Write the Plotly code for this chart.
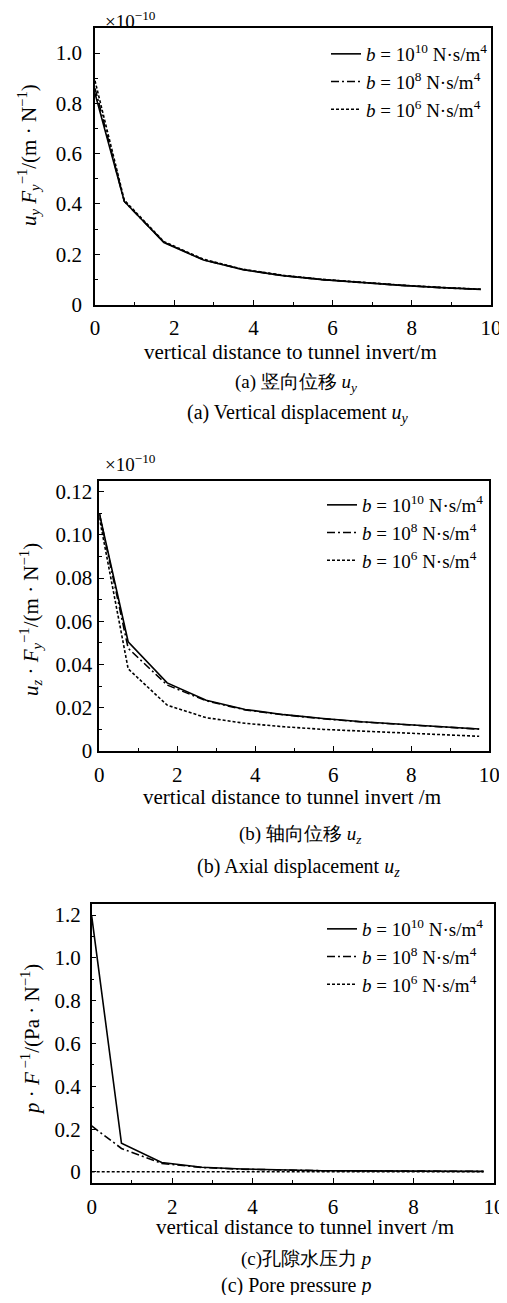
import plotly.graph_objects as go

W, H = 507, 1303
OFF = 8  # page body margin of the html page
FW, FH = W - OFF, H - 2 * OFF

# distance to tunnel invert (m)
dist = [0, 0.74, 1.74, 2.74, 3.74, 4.74, 5.74, 6.74, 7.74, 8.74, 9.74]

# (a) vertical displacement, x1e-10
uy_b10 = [0.84, 0.41, 0.246, 0.177, 0.138, 0.115, 0.099, 0.086, 0.076, 0.067, 0.060]
uy_b8 = [0.86, 0.41, 0.248, 0.178, 0.139, 0.115, 0.099, 0.086, 0.076, 0.067, 0.060]
uy_b6 = [0.89, 0.415, 0.25, 0.180, 0.140, 0.116, 0.100, 0.087, 0.077, 0.068, 0.061]

# (b) axial displacement, x1e-10
uz_b10 = [0.110, 0.0505, 0.0315, 0.0235, 0.0192, 0.0168, 0.0150, 0.0135, 0.0124, 0.0113, 0.0102]
uz_b8 = [0.110, 0.0475, 0.0305, 0.0232, 0.0190, 0.0167, 0.0149, 0.0134, 0.0123, 0.0112, 0.0101]
uz_b6 = [0.108, 0.0380, 0.0212, 0.0154, 0.0128, 0.0112, 0.0100, 0.0092, 0.0085, 0.0077, 0.0068]

# (c) pore pressure
p_b10 = [1.195, 0.134, 0.044, 0.022, 0.014, 0.009, 0.006, 0.005, 0.004, 0.003, 0.003]
p_b8 = [0.215, 0.110, 0.040, 0.021, 0.013, 0.009, 0.006, 0.005, 0.004, 0.003, 0.003]
p_b6 = [0.001, 0.001, 0.001, 0.001, 0.001, 0.001, 0.001, 0.001, 0.001, 0.001, 0.001]

labels = [
    '<i>b</i> = 10<sup>10</sup> N·s/m<sup>4</sup>',
    '<i>b</i> = 10<sup>8</sup> N·s/m<sup>4</sup>',
    '<i>b</i> = 10<sup>6</sup> N·s/m<sup>4</sup>',
]
dashes = ['solid', '8px,3px,2px,3px', '3px,2px']

FONT = 'Liberation Serif'


def px(x):
    return (x - OFF) / FW


def py(y):
    return 1 - (y - OFF) / FH


# panel frames in page pixels: left, right, top, bottom
frames = [
    (95, 491, 28, 304.5),
    (99.3, 489.3, 480.7, 751),
    (91.7, 494, 904.3, 1182.7),
]
legend_pos = [(493, 82), (489, 533), (489, 957)]
yranges = [[0, 1.1], [0, 0.125], [-0.05, 1.25]]
ytickvals = [
    [0, 0.2, 0.4, 0.6, 0.8, 1.0],
    [0, 0.02, 0.04, 0.06, 0.08, 0.10, 0.12],
    [0, 0.2, 0.4, 0.6, 0.8, 1.0, 1.2],
]
yticktext = [
    ['0', '0.2', '0.4', '0.6', '0.8', '1.0'],
    ['0', '0.02', '0.04', '0.06', '0.08', '0.10', '0.12'],
    ['0', '0.2', '0.4', '0.6', '0.8', '1.0', '1.2'],
]
ystandoff = [7, 1, 5]
series = [
    [uy_b10, uy_b8, uy_b6],
    [uz_b10, uz_b8, uz_b6],
    [p_b10, p_b8, p_b6],
]

fig = go.Figure()

for k, (vals, frame) in enumerate(zip(series, frames)):
    sfx = '' if k == 0 else str(k + 1)
    leg = 'legend' + sfx
    for j, v in enumerate(vals):
        fig.add_trace(go.Scatter(
            x=dist, y=v, mode='lines', name=labels[j],
            line=dict(color='black', width=1.6, dash=dashes[j]),
            xaxis='x' + sfx, yaxis='y' + sfx, legend=leg,
        ))

    l, r, t, b = frame
    axis_common = dict(
        showline=True, linecolor='black', linewidth=1.5, mirror=True,
        ticks='inside', ticklen=5, tickwidth=1.2, tickcolor='black',
        showgrid=False, zeroline=False, automargin=False,
        tickfont=dict(family=FONT, size=21, color='black'),
    )
    fig.update_layout({
        'xaxis' + sfx: dict(
            domain=[px(l), px(r)], anchor='y' + sfx, range=[0, 10],
            tickvals=[0, 2, 4, 6, 8, 10], ticklabelstandoff=4,
            minor=dict(tickvals=[1, 3, 5, 7, 9], ticks='inside', ticklen=3,
                       tickcolor='black', tickwidth=1.2),
            **axis_common,
        ),
        'yaxis' + sfx: dict(
            domain=[py(b), py(t)], anchor='x' + sfx, range=yranges[k],
            tickvals=ytickvals[k], ticktext=yticktext[k],
            ticklabelstandoff=ystandoff[k],
            minor=dict(tickvals=[(ytickvals[k][i] + ytickvals[k][i + 1]) / 2
                                 for i in range(len(ytickvals[k]) - 1)],
                       ticks='inside', ticklen=3, tickcolor='black', tickwidth=1.2),
            **axis_common,
        ),
        leg: dict(
            x=px(legend_pos[k][0]), xanchor='right',
            y=py(legend_pos[k][1]), yanchor='middle',
            bgcolor='rgba(0,0,0,0)', borderwidth=0,
            font=dict(family=FONT, size=19, color='black'),
            itemwidth=30, tracegroupgap=0,
        ),
    })

annotations = [
    # multipliers
    dict(x=103, y=20, text='×10<sup>−10</sup>', size=19),
    dict(x=103, y=463, text='×10<sup>−10</sup>', size=19),
    # x titles
    dict(x=290, y=352, text='vertical distance to tunnel invert/m', size=21, xanchor='center'),
    dict(x=292, y=797, text='vertical distance to tunnel invert /m', size=21, xanchor='center'),
    dict(x=305, y=1227, text='vertical distance to tunnel invert /m', size=21, xanchor='center'),
    # captions
    dict(x=296, y=383, text='(a) 竖向位移 <i>u<sub>y</sub></i>', size=19, xanchor='center'),
    dict(x=298, y=413, text='(a) Vertical displacement <i>u<sub>y</sub></i>', size=20, xanchor='center'),
    dict(x=300, y=835, text='(b) 轴向位移 <i>u<sub>z</sub></i>', size=19, xanchor='center'),
    dict(x=298, y=867, text='(b) Axial displacement <i>u<sub>z</sub></i>', size=20, xanchor='center'),
    dict(x=306, y=1259, text='(c)孔隙水压力 <i>p</i>', size=19, xanchor='center'),
    dict(x=296, y=1285, text='(c) Pore pressure <i>p</i>', size=20, xanchor='center'),
]
for a in annotations:
    fig.add_annotation(
        x=px(a['x']), y=py(a['y']), xref='paper', yref='paper', showarrow=False,
        text=a['text'], xanchor=a.get('xanchor', 'left'), yanchor='middle',
        font=dict(family=FONT, size=a['size'], color='black'),
    )

# rotated y titles
ytitles = [
    (28, 155, '<i>u<sub>y</sub> F<sub>y</sub></i><sup>−1</sup>/(m · N<sup>−1</sup>)'),
    (30, 620, '<i>u<sub>z</sub></i> · <i>F<sub>y</sub></i><sup>−1</sup>/(m · N<sup>−1</sup>)'),
    (30, 1040, '<i>p</i> · <i>F</i><sup> −1</sup>/(Pa · N<sup>−1</sup>)'),
]
for tx, ty, txt in ytitles:
    fig.add_annotation(
        x=px(tx), y=py(ty), xref='paper', yref='paper', showarrow=False,
        text=txt, textangle=-90, xanchor='center', yanchor='middle',
        font=dict(family=FONT, size=21, color='black'),
    )

fig.update_layout(
    width=FW, height=FH,
    margin=dict(l=0, r=0, t=0, b=0, autoexpand=False),
    plot_bgcolor='white', paper_bgcolor='white',
    font=dict(family=FONT, color='black'),
    showlegend=True,
)

fig.write_html("out.html")
